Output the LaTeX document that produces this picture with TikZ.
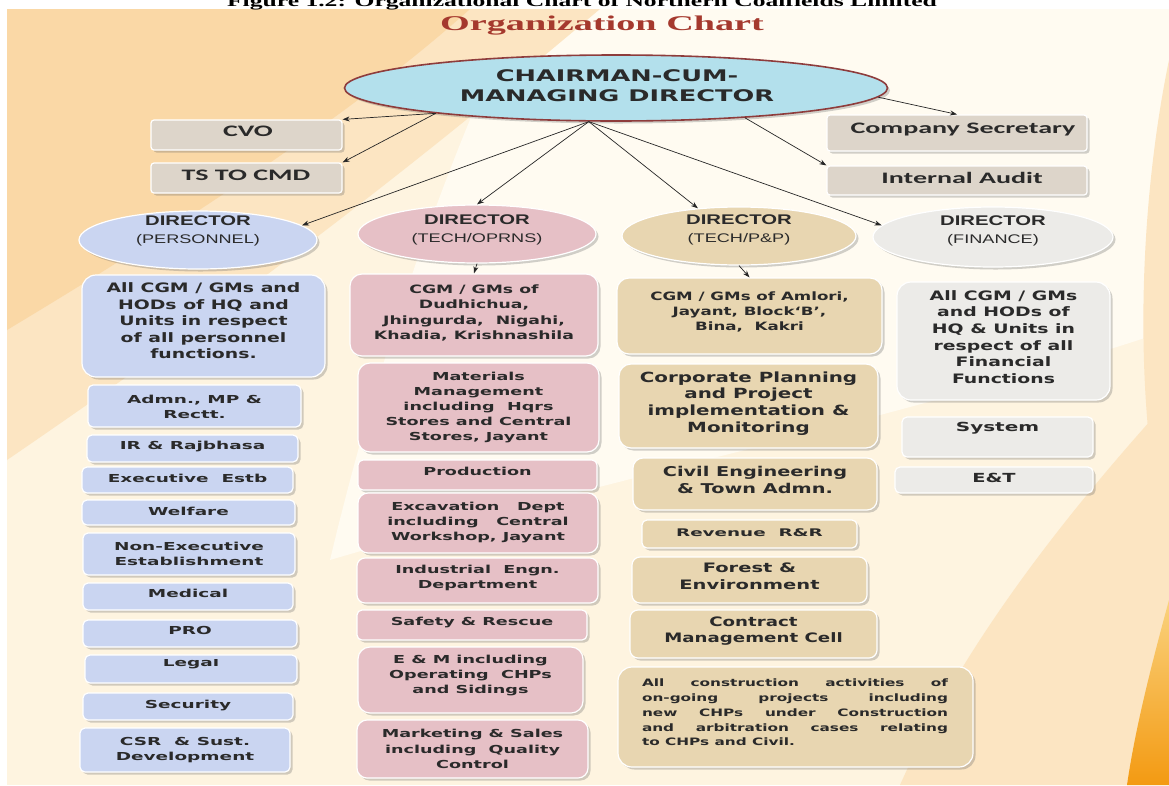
\documentclass[tikz,border=0pt]{standalone}
\usepackage{fontspec}
\usepackage{graphicx}
\setmainfont{DejaVu Sans}
\newfontfamily\carl{Carlito}
\newfontfamily\arl{Liberation Sans}
\newfontfamily\tms{Liberation Serif}
\usetikzlibrary{shapes.geometric,arrows.meta,shadows}
\definecolor{bgbase}{HTML}{FEF4E0}
\definecolor{peachA}{HTML}{FCE5C2}
\definecolor{peachB}{HTML}{FAD8A6}
\definecolor{lightbg}{HTML}{FFFBF1}
\definecolor{orngA}{HTML}{FAD27E}
\definecolor{orngB}{HTML}{F39A12}
\definecolor{cmdfill}{HTML}{B3E0EC}
\definecolor{cmdline}{HTML}{8E3C3C}
\definecolor{greyb}{HTML}{DDD5CA}
\definecolor{blueb}{HTML}{CAD5F1}
\definecolor{pinkb}{HTML}{E6C0C6}
\definecolor{tanb}{HTML}{E8D6B1}
\definecolor{whiteb}{HTML}{ECEBE8}
\definecolor{txt}{HTML}{2A2A2A}
\definecolor{titlered}{HTML}{A5392E}
\newcommand\TL[4]{\scalebox{#1}[1]{\fontsize{#2}{#3}\selectfont\begin{tabular}{@{}c@{}}#4\end{tabular}}}
\newcommand\DT[1]{\arl\scalebox{1.45}[1]{\fontsize{14}{18}\selectfont\begin{tabular}{@{}c@{}}DIRECTOR\\\fontsize{12.5}{18}\selectfont\mdseries #1\end{tabular}}}
\hyphenpenalty=10000
\begin{document}
\begin{tikzpicture}[x=1pt,y=-1pt,
  shd/.style={drop shadow={shadow xshift=2.5pt,shadow yshift=-2.5pt,fill=black!60,opacity=.3}},
  bxs/.style={rectangle,draw=white,line width=1.2pt,inner sep=0pt,shd,rounded corners=5pt},
  gbox/.style={bxs,fill=greyb,rounded corners=3pt},
  bbox/.style={bxs,fill=blueb},
  pbox/.style={bxs,fill=pinkb},
  tbox/.style={bxs,fill=tanb},
  wbox/.style={bxs,fill=whiteb},
  dell/.style={ellipse,draw=white,line width=1.2pt,inner sep=0pt,shd},
  tx/.style={inner sep=0pt,text=txt,font=\bfseries},
  arr/.style={-{Stealth[length=7pt,width=5pt]},line width=0.7pt,draw=black!85},
]
\useasboundingbox (0,0) rectangle (1169,785);
\clip (0,0) rectangle (1169,785);
% background
\fill[white] (0,0) rectangle (1169,785);
\fill[bgbase] (7,9) rectangle (1169,785);
\fill[lightbg] (520,9) -- (1169,9) -- (1169,330) .. controls (900,420) and (600,480) .. (330,560) .. controls (380,350) and (450,150) .. (520,9) -- cycle;
\fill[peachA] (7,9) -- (600,9) .. controls (480,110) and (300,260) .. (7,460) -- cycle;
\fill[peachB] (7,9) -- (470,9) .. controls (380,90) and (240,190) .. (7,330) -- cycle;
\fill[peachA] (1169,60) .. controls (1140,200) and (1130,400) .. (1169,560) -- cycle;
\fill[peachA] (1169,400) .. controls (1060,520) and (960,650) .. (900,785) -- (1169,785) -- cycle;
\shade[top color=orngA,bottom color=orngB] (1169,600) .. controls (1150,670) and (1135,730) .. (1127,785) -- (1169,785) -- cycle;

% caption and title
\node[anchor=base,inner sep=0pt] (cap) at (582,6) {\scalebox{1.6}[1]{\tms\bfseries\fontsize{16}{18}\selectfont Figure 1.2: Organizational Chart of Northern Coalfields Limited}};
\node[anchor=base,inner sep=0pt,text=titlered] (title) at (602,30) {\scalebox{1.82}[1]{\tms\bfseries\fontsize{21}{25}\selectfont Organization Chart}};

% CMD
\node[ellipse,fill=cmdfill,draw=cmdline,line width=1.6pt,minimum width=543pt,minimum height=66pt,inner sep=0pt,shd] (cmd) at (616,88) {};
\node[tx] (cmdt) at (617,87.5) {\TL{1.6}{16}{20.5}{CHAIRMAN-CUM-\\MANAGING DIRECTOR}};

% top boxes
\node[gbox,minimum width=191pt,minimum height=30pt] (cvo) at (246.5,135) {};
\node[tx] (cvot) at (248,133) {\carl\TL{1.75}{16}{19}{CVO}};
\node[gbox,minimum width=191pt,minimum height=30pt] (ts) at (246.5,178) {};
\node[tx] (tst) at (246,177) {\carl\TL{1.75}{16}{19}{TS TO CMD}};
\node[gbox,minimum width=260pt,minimum height=36pt] (cs) at (957,133) {};
\node[tx] (cst) at (963,130) {\carl\TL{1.75}{16}{19}{Company Secretary}};
\node[gbox,minimum width=260pt,minimum height=29pt] (ia) at (957,180.5) {};
\node[tx] (iat) at (962,180) {\carl\TL{1.75}{16}{19}{Internal Audit}};

% directors
\node[dell,fill=blueb,minimum width=238pt,minimum height=58pt] (dp) at (198,240) {};
\node[tx] (dpt) at (198,231) {\DT{(PERSONNEL)}};
\node[dell,fill=pinkb,minimum width=238pt,minimum height=58pt] (dt) at (477,234) {};
\node[tx] (dtt) at (477,229.5) {\DT{(TECH/OPRNS)}};
\node[dell,fill=tanb,minimum width=234pt,minimum height=58pt] (dpp) at (739,236) {};
\node[tx] (dppt) at (739,229.5) {\DT{(TECH/P\&P)}};
\node[dell,fill=whiteb,minimum width=240pt,minimum height=60pt] (dfin) at (993,237) {};
\node[tx] (dfint) at (993,231) {\DT{(FINANCE)}};

% arrows from CMD
\draw[arr] (cmd.188) -- (cvo.north east);
\draw[arr] (cmd.188) -- (ts.north east);
\draw[arr] (cmd.358) -- (cs.north);
\draw[arr] (cmd.347) -- (ia.north west);
\draw[arr] (cmd.231) -- (dp.8);
\draw[arr] (cmd.231) -- (dt.north);
\draw[arr] (cmd.231) -- (dpp.146);
\draw[arr] (cmd.231) -- (dfin.174);

% personnel column
\node[bbox,rounded corners=14pt,minimum width=243pt,minimum height=102pt] (pall) at (203.5,326) {};
\node[tx] (pallt) at (203.5,322.5) {\TL{1.45}{13}{16.5}{All CGM / GMs and\\HODs of HQ and\\Units in respect\\of all personnel\\functions.}};
\node[bbox,minimum width=213pt,minimum height=42pt] (l1) at (194.5,406) {};
\node[tx] (l1t) at (194.5,407.5) {\TL{1.68}{11}{15}{Admn., MP \&\\Rectt.}};
\node[bbox,minimum width=211pt,minimum height=27pt] (l2) at (192.5,448.5) {};
\node[tx] (l2t) at (192.5,446) {\TL{1.68}{11}{15}{IR \& Rajbhasa}};
\node[bbox,minimum width=211pt,minimum height=26pt] (l3) at (187.5,480) {};
\node[tx] (l3t) at (187.5,479) {\TL{1.68}{11}{15}{Executive~~Estb}};
\node[bbox,minimum width=213pt,minimum height=25pt] (l4) at (188.5,512.5) {};
\node[tx] (l4t) at (188.5,512) {\TL{1.68}{11}{15}{Welfare}};
\node[bbox,minimum width=212pt,minimum height=42pt] (l5) at (189,554) {};
\node[tx] (l5t) at (189,554.5) {\TL{1.68}{11}{15}{Non-Executive\\Establishment}};
\node[bbox,minimum width=210pt,minimum height=27pt] (l6) at (188,596.5) {};
\node[tx] (l6t) at (188,594) {\TL{1.68}{11}{15}{Medical}};
\node[bbox,minimum width=214pt,minimum height=27pt] (l7) at (190,633.5) {};
\node[tx] (l7t) at (190,631) {\TL{1.68}{11}{15}{PRO}};
\node[bbox,minimum width=212pt,minimum height=28pt] (l8) at (191,669) {};
\begin{scope}
\clip (85,659.5) rectangle (297,683);
\node[tx] (l8t) at (191,663) {\TL{1.68}{11}{15}{Legal}};
\end{scope}
\node[bbox,minimum width=210pt,minimum height=27pt] (l9) at (188,706.5) {};
\node[tx] (l9t) at (188,705) {\TL{1.68}{11}{15}{Security}};
\node[bbox,minimum width=210pt,minimum height=44pt] (l10) at (185,750) {};
\node[tx] (l10t) at (185,749.5) {\TL{1.68}{11}{15}{CSR~~\& Sust.\\Development}};

% tech/oprns column
\node[pbox,rounded corners=12pt,minimum width=248pt,minimum height=82pt] (tcgm) at (474,315) {};
\node[tx] (tcgmt) at (474,313.5) {\TL{1.5}{11.5}{15.5}{CGM / GMs of\\Dudhichua,\\Jhingurda,~~Nigahi,\\Khadia, Krishnashila}};
\draw[arr] (dt.south) -- (tcgm.north);
\node[pbox,rounded corners=12pt,minimum width=241pt,minimum height=89pt] (m1) at (478.5,407.5) {};
\node[tx] (m1t) at (478.5,407.5) {\TL{1.6}{11}{15}{Materials\\Management\\including~~Hqrs\\Stores and Central\\Stores, Jayant}};
\node[pbox,minimum width=239pt,minimum height=30pt] (m2) at (477.5,475) {};
\node[tx] (m2t) at (477.5,472) {\TL{1.6}{11}{15}{Production}};
\node[pbox,rounded corners=10pt,minimum width=240pt,minimum height=60pt] (m3) at (478,523) {};
\node[tx] (m3t) at (478,522) {\TL{1.6}{11}{15}{Excavation\quad Dept\\including\quad Central\\Workshop, Jayant}};
\node[pbox,rounded corners=8pt,minimum width=241pt,minimum height=45pt] (m4) at (477.5,580.5) {};
\node[tx] (m4t) at (477.5,577.5) {\TL{1.6}{11}{15}{Industrial~~Engn.\\Department}};
\node[pbox,minimum width=230pt,minimum height=30pt] (m5) at (472,625) {};
\node[tx] (m5t) at (472,622) {\TL{1.6}{11}{15}{Safety \& Rescue}};
\node[pbox,rounded corners=12pt,minimum width=225pt,minimum height=66pt] (m6) at (470.5,680) {};
\node[tx] (m6t) at (470.5,675) {\TL{1.6}{11}{15}{E \& M including\\Operating~~CHPs\\and Sidings}};
\node[pbox,rounded corners=10pt,minimum width=231pt,minimum height=58pt] (m7) at (472.5,749) {};
\node[tx] (m7t) at (472.5,750) {\TL{1.6}{11}{15.5}{Marketing \& Sales\\including~~Quality\\Control}};

% tech/P&P column
\node[tbox,rounded corners=12pt,minimum width=265pt,minimum height=76pt] (pcgm) at (749.5,316) {};
\node[tx] (pcgmt) at (749.5,312) {\TL{1.45}{11.5}{15}{CGM / GMs of Amlori,\\Jayant, Block‘B’,\\Bina,~~Kakri}};
\draw[arr] (dpp.south) -- (pcgm.north);
\node[tbox,rounded corners=12pt,minimum width=259pt,minimum height=84pt] (r1) at (748.5,406) {};
\node[tx] (r1t) at (748.5,404) {\TL{1.42}{14}{16.7}{Corporate Planning\\and Project\\implementation \&\\Monitoring}};
\node[tbox,rounded corners=10pt,minimum width=244pt,minimum height=52pt] (r2) at (755,484) {};
\node[tx] (r2t) at (755,481.5) {\TL{1.43}{13.5}{17}{Civil Engineering\\\& Town Admn.}};
\node[tbox,minimum width=215pt,minimum height=28pt] (r3) at (749.5,534) {};
\node[tx] (r3t) at (749.5,533) {\TL{1.75}{10.5}{15}{Revenue~~R\&R}};
\node[tbox,rounded corners=8pt,minimum width=235pt,minimum height=46pt] (r4) at (749.5,580) {};
\node[tx] (r4t) at (749.5,577.5) {\TL{1.5}{13}{17}{Forest \&\\Environment}};
\node[tbox,rounded corners=8pt,minimum width=247pt,minimum height=48pt] (r5) at (753.5,634) {};
\node[tx] (r5t) at (753.5,631.5) {\TL{1.4}{13}{15.5}{Contract\\Management Cell}};
\node[tbox,rounded corners=14pt,minimum width=355pt,minimum height=100pt] (r6) at (795.5,717) {};
\node[tx] (r6t) at (795,712.5) {\scalebox{1.5}[1]{\fontsize{10.2}{14.7}\selectfont\parbox{204pt}{All construction activities of\linebreak on-going projects including\linebreak new CHPs under Construction\linebreak and arbitration cases relating\linebreak to CHPs and Civil.}}};

% finance column
\node[wbox,rounded corners=14pt,minimum width=213pt,minimum height=118pt] (fall) at (1003.5,341) {};
\node[tx] (fallt) at (1003.5,338.5) {\TL{1.45}{13}{16.6}{All CGM / GMs\\and HODs of\\HQ \& Units in\\respect of all\\Financial\\Functions}};
\node[wbox,minimum width=191pt,minimum height=40pt] (f1) at (997.5,437) {};
\node[tx] (f1t) at (997.5,428) {\TL{1.6}{12.5}{15}{System}};
\node[wbox,minimum width=198pt,minimum height=26pt] (f2) at (994,480) {};
\node[tx] (f2t) at (994,479) {\TL{1.55}{12.5}{15}{E\&T}};
\end{tikzpicture}
\end{document}
